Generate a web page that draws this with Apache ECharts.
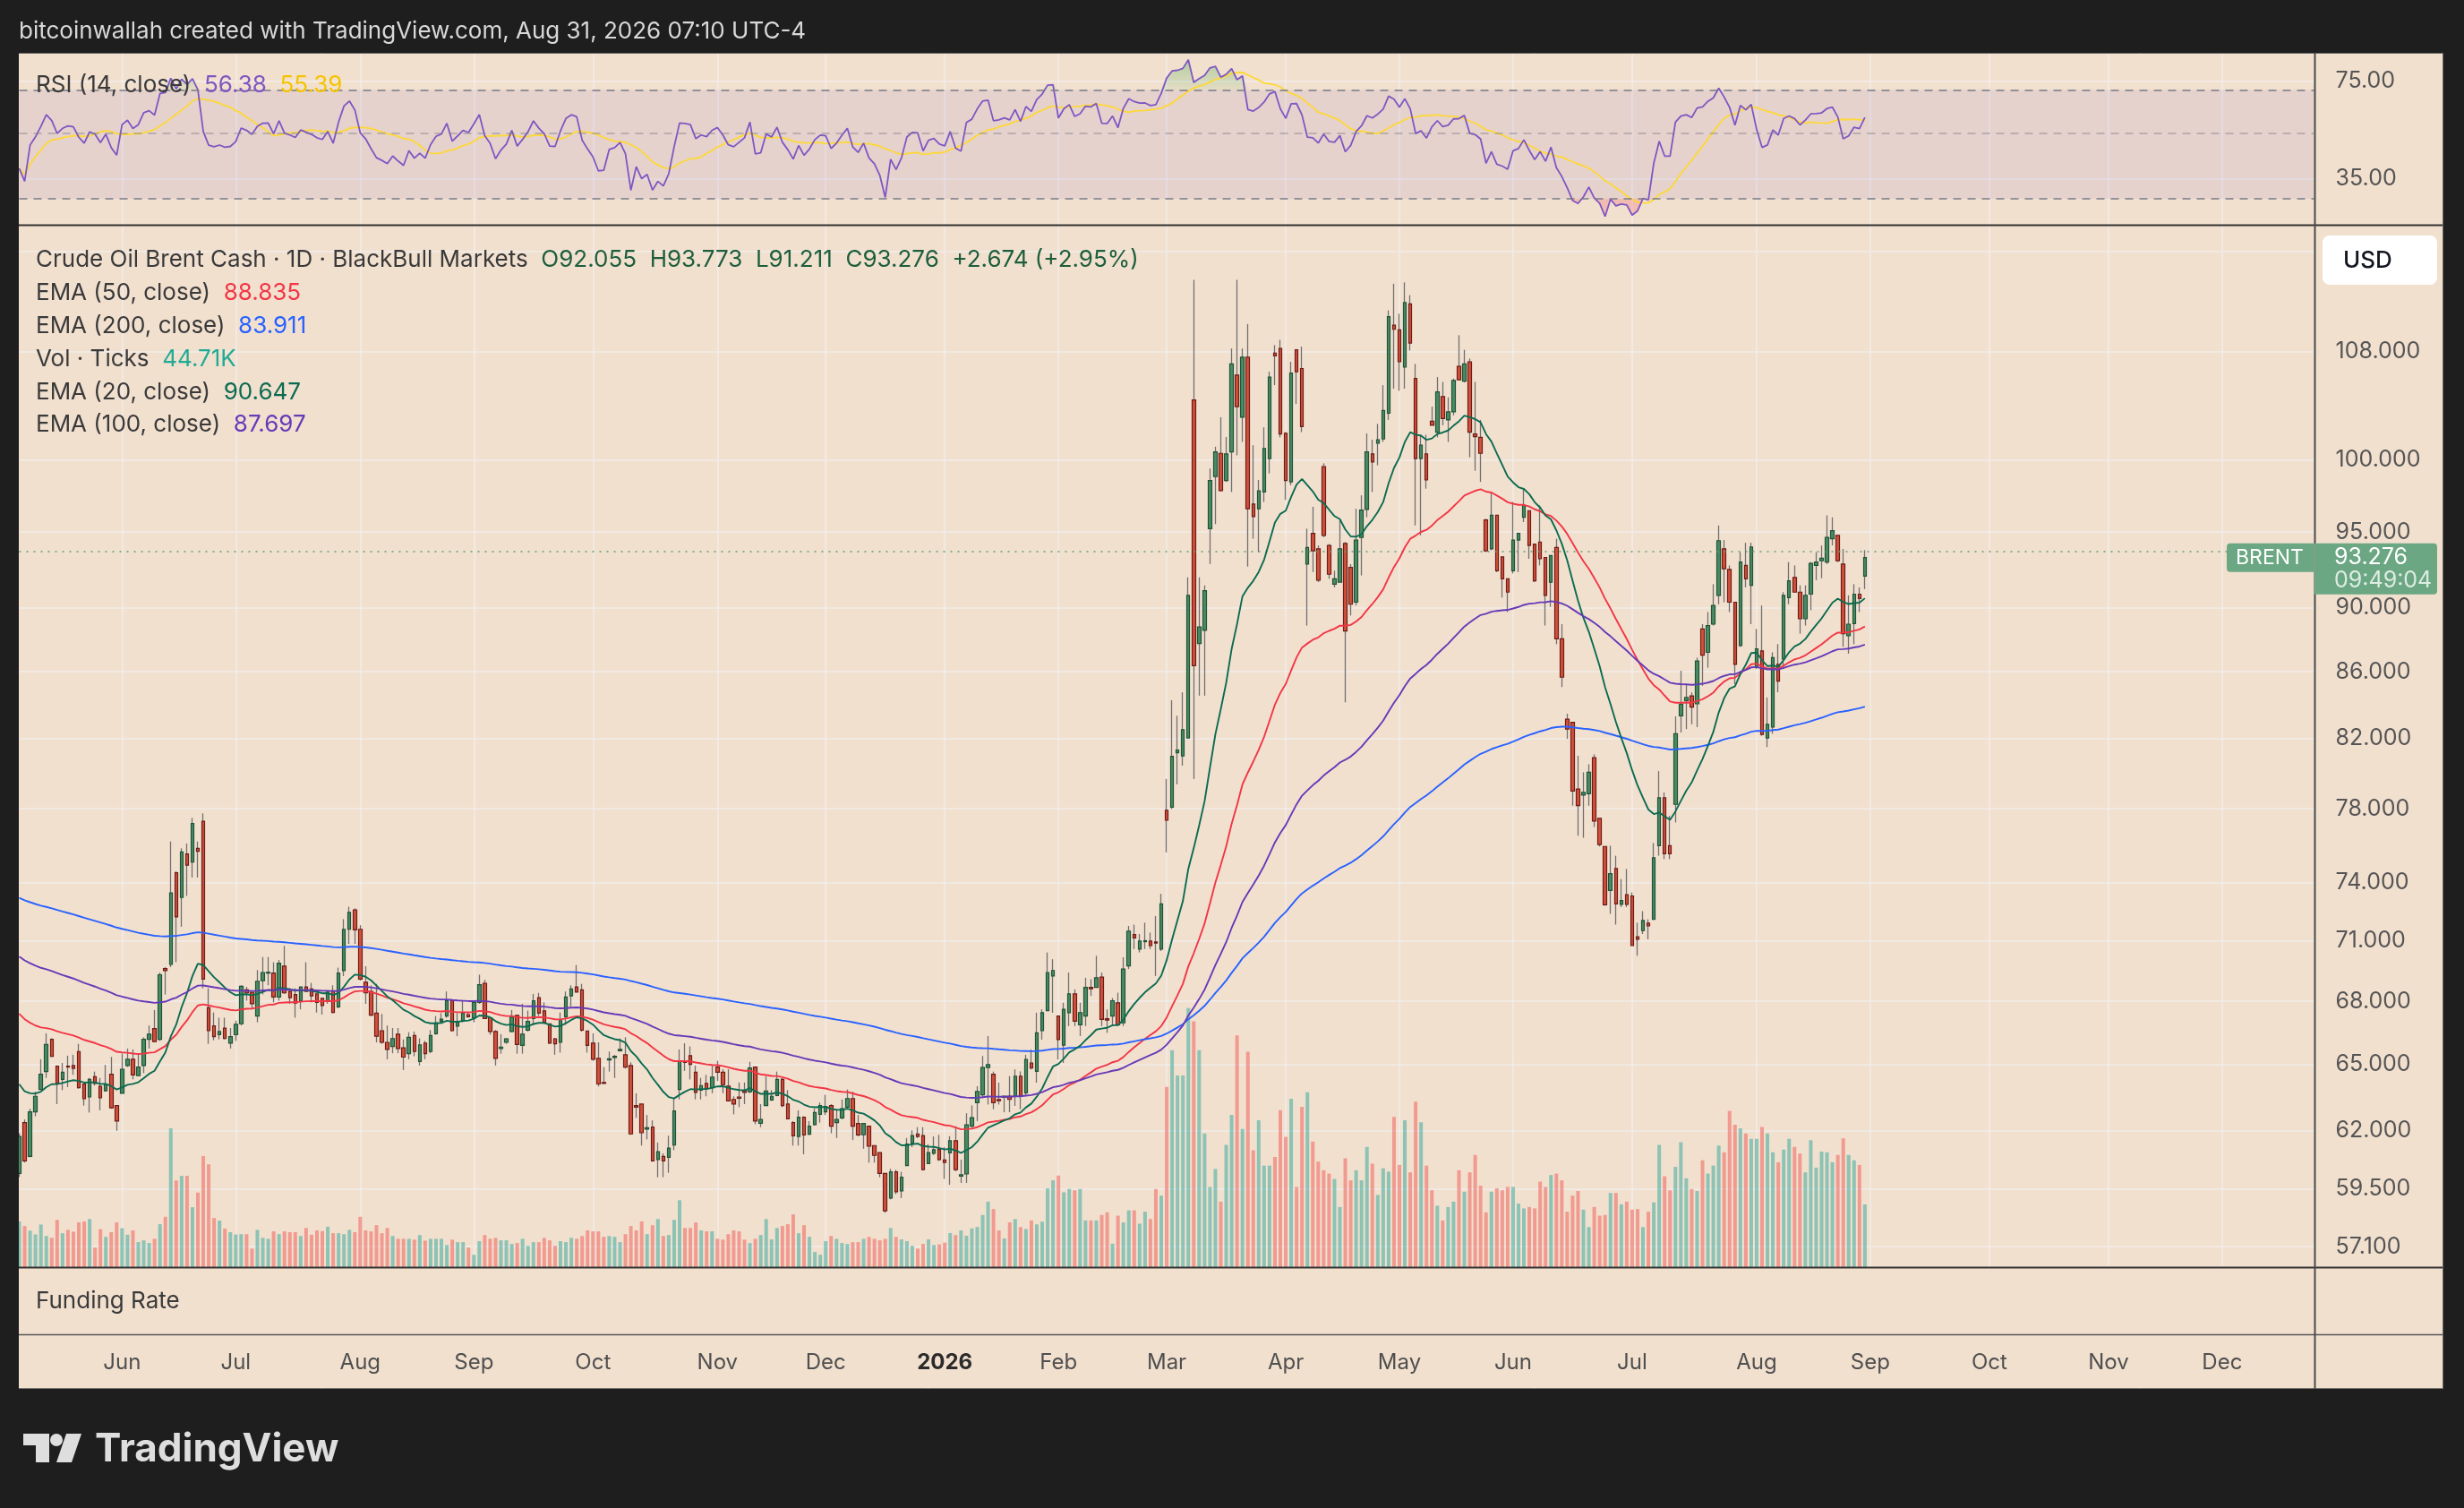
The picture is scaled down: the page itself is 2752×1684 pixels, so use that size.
<!DOCTYPE html>
<html><head><meta charset="utf-8">
<script src="https://cdn.jsdelivr.net/npm/echarts@6/dist/echarts.min.js"></script>
<style>html,body{margin:0;padding:0;background:#1e1e1e;}#c{width:2752px;height:1684px;}</style>
</head><body><div id="c"></div>
<script>
// ---------------- data ----------------
const startDate = '2025-05-06';
const endDate = '2026-12-24';
const holidays = ['2025-12-25', '2026-01-01', '2026-04-03'];

const opens = [
60.15,62.37,60.89,62.85,63.86,64.68,66.18,64.93,64.32,64.93,
64.96,65.61,64.11,63.52,64.44,64.00,63.80,64.56,63.13,63.69,
64.96,65.25,64.49,64.96,66.18,66.69,66.18,69.60,69.81,74.52,
73.22,75.53,75.09,75.83,77.30,67.69,66.82,66.40,66.71,66.00,
66.40,66.92,68.56,68.44,67.29,69.01,69.38,69.38,68.21,69.73,
68.48,68.33,68.03,68.70,68.60,68.36,68.14,68.03,68.51,67.73,
69.50,71.58,72.58,71.58,68.93,68.48,67.43,66.59,66.04,65.85,
66.43,65.78,65.51,66.36,65.15,66.01,65.61,66.45,67.04,67.29,
68.06,66.81,67.07,67.36,67.21,67.95,68.88,67.21,66.55,65.75,
66.04,66.55,67.32,65.90,66.62,67.17,68.18,67.54,66.92,66.21,
66.04,67.26,68.26,68.70,68.56,66.58,66.00,65.29,64.18,65.22,
65.33,65.65,65.46,64.96,63.13,63.20,62.08,62.17,60.75,60.89,
60.85,61.38,63.86,65.15,65.42,64.65,63.83,64.14,63.94,64.89,
64.65,64.01,63.41,63.52,63.80,63.76,64.89,62.34,63.13,63.38,
63.59,64.32,63.20,62.37,61.76,62.61,61.86,62.28,62.74,62.85,
63.13,62.37,62.58,63.06,63.45,62.33,61.84,62.21,61.36,61.05,
60.15,59.11,60.22,59.41,60.49,61.46,61.87,61.80,60.58,61.02,
61.19,60.73,61.04,61.57,60.04,60.13,62.21,63.26,63.62,64.87,
64.56,63.41,63.50,63.56,63.56,64.47,63.71,65.08,64.69,66.59,
67.55,69.24,67.29,65.91,67.45,68.36,66.87,67.29,68.68,68.68,
69.18,67.16,67.29,67.93,66.97,69.74,71.31,70.58,70.95,70.98,
70.94,70.58,77.91,78.09,81.17,80.99,82.03,104.37,87.74,88.57,
95.22,98.82,100.47,98.54,100.57,106.23,103.09,107.59,96.91,96.58,
97.74,100.09,107.90,108.26,101.91,98.45,108.16,106.73,92.85,94.90,
93.86,99.53,94.09,91.53,91.66,94.22,92.63,90.36,94.63,96.53,
100.43,101.20,101.50,103.38,110.07,109.70,106.83,111.76,105.97,100.09,
100.43,102.79,102.00,104.61,102.89,103.48,106.89,105.77,107.24,101.86,
101.62,95.81,93.86,96.13,93.33,91.88,92.41,94.45,96.00,96.45,
94.18,94.32,93.29,91.66,93.95,88.03,83.14,82.95,79.10,78.76,
78.84,80.89,77.47,75.93,73.59,74.75,72.86,73.37,73.30,71.20,
71.51,71.89,72.09,75.97,78.61,75.97,78.24,83.34,84.24,84.53,
84.05,88.66,87.19,88.96,90.80,93.86,92.50,90.36,87.61,92.76,
91.45,86.28,87.28,82.03,82.67,86.45,86.78,90.66,91.97,91.01,
89.30,90.88,92.76,93.07,92.98,94.54,94.77,92.85,88.23,89.00,
90.88,92.055];
const highs = [
61.90,62.51,62.99,63.76,65.25,66.47,66.23,64.96,65.08,65.42,
65.46,65.97,64.11,64.39,64.68,64.39,64.99,65.36,63.13,65.51,
65.75,65.71,65.53,66.28,66.84,67.58,69.41,69.68,76.20,74.60,
75.83,76.09,77.49,76.20,77.74,68.63,67.46,67.21,67.21,66.72,
67.07,68.78,68.70,68.44,69.53,70.18,70.18,69.92,70.03,70.74,
68.63,68.63,68.70,69.92,68.90,68.36,68.18,68.48,68.78,69.65,
72.10,72.74,72.66,71.79,69.72,68.78,68.85,67.39,66.84,66.72,
66.72,66.18,66.52,66.55,66.23,66.11,66.62,67.29,67.43,68.48,
68.11,67.43,68.03,67.43,68.03,69.30,69.05,67.21,66.62,66.43,
66.25,67.58,67.36,67.88,67.55,68.36,68.41,67.95,66.92,66.25,
67.46,68.48,68.78,69.78,68.85,66.58,66.47,66.04,64.89,65.61,
65.46,66.23,66.28,65.11,63.69,63.20,62.71,62.47,61.49,61.02,
61.79,63.48,65.71,66.00,65.85,64.96,64.39,64.53,64.96,65.18,
64.79,64.79,63.55,64.18,64.18,65.13,64.89,63.20,64.46,63.83,
64.68,64.39,63.83,62.44,62.92,62.65,62.44,62.99,63.27,63.62,
63.20,62.99,63.41,63.86,63.76,62.71,62.33,62.21,61.36,61.05,
60.15,60.35,60.31,60.22,61.69,62.03,62.17,62.17,61.42,61.76,
61.83,61.29,61.77,62.21,60.75,62.79,63.14,64.01,65.40,66.34,
64.68,64.17,63.56,64.47,64.78,64.69,65.46,65.71,67.45,67.61,
70.41,70.07,67.29,67.93,69.41,68.58,67.93,69.15,69.08,70.24,
69.41,67.61,68.16,68.42,70.17,71.75,71.82,71.34,71.92,71.41,
72.26,73.41,79.67,84.27,83.34,84.74,91.98,113.69,91.98,91.45,
99.39,100.95,103.09,101.65,108.26,113.69,108.26,110.17,101.05,98.58,
102.35,106.48,108.52,108.93,102.00,107.24,108.21,108.41,95.22,96.72,
94.09,99.76,94.18,92.41,95.81,94.32,92.85,96.58,97.51,101.91,
101.45,102.60,105.47,111.24,113.37,110.97,113.48,112.45,107.08,101.81,
101.81,103.87,106.08,105.72,104.56,105.97,109.29,108.16,107.49,105.72,
102.89,95.90,97.74,96.13,93.33,91.88,97.05,94.91,97.97,96.45,
94.18,96.81,93.29,93.42,94.54,88.96,83.46,82.95,81.00,80.05,
80.51,81.08,77.47,75.93,75.97,75.43,74.19,74.72,73.48,71.92,
72.51,72.09,76.12,80.12,78.91,77.61,83.30,86.05,85.23,84.74,
86.86,88.96,89.73,91.53,95.44,94.45,92.76,90.36,93.64,94.27,
94.27,88.66,90.15,84.43,87.19,87.70,91.01,92.98,92.76,91.45,
91.45,92.98,93.64,94.09,96.13,95.99,94.77,93.86,90.80,91.53,
91.32,93.773];
const lows = [
60.00,60.62,60.85,62.65,63.83,64.39,65.39,63.20,63.83,63.97,
64.53,63.90,63.13,62.82,64.04,62.92,63.77,62.99,62.01,63.69,
64.89,64.32,64.46,64.61,65.75,66.04,66.11,68.33,69.68,69.92,
71.71,73.30,74.27,74.27,68.63,65.97,66.14,66.18,66.18,65.75,
66.11,66.84,68.03,67.61,66.99,68.33,68.78,67.95,68.03,68.36,
67.88,67.21,67.61,68.48,67.95,67.46,67.36,67.88,67.43,67.66,
69.23,70.84,70.84,69.01,67.88,67.29,66.04,65.97,65.25,65.53,
65.53,64.75,65.25,65.39,64.96,65.25,65.53,66.40,66.92,67.21,
66.55,66.33,66.99,67.21,66.99,67.88,67.14,66.40,64.96,65.51,
65.97,66.52,65.51,65.51,66.55,66.84,67.29,66.92,65.97,65.46,
65.56,66.87,67.73,68.45,66.55,65.56,65.18,64.00,64.11,64.68,
64.39,65.61,64.82,61.83,62.58,61.36,61.63,60.66,59.99,59.99,
60.18,61.16,63.41,64.71,64.32,63.41,63.41,63.55,63.69,64.25,
63.69,63.34,62.74,63.06,63.20,63.69,62.30,62.17,63.13,63.34,
63.55,63.06,62.51,61.36,61.36,60.98,61.83,62.24,62.37,62.71,
61.90,61.69,62.51,62.99,61.60,61.76,61.22,60.62,60.62,59.99,
58.49,59.05,59.27,59.11,60.49,61.29,61.69,60.28,60.55,60.95,
60.69,59.92,59.67,60.24,59.75,59.75,62.15,62.44,63.47,63.18,
62.97,63.18,62.83,62.83,63.12,62.97,63.56,64.78,64.17,66.17,
67.55,67.45,65.24,65.08,66.81,66.81,66.34,66.81,68.26,68.68,
66.81,66.49,66.81,66.81,66.81,69.58,70.58,70.41,70.58,70.58,
69.24,70.48,75.61,77.98,79.36,80.43,82.03,79.67,84.54,84.54,
92.85,95.53,97.79,98.45,97.74,100.33,101.29,92.68,94.54,93.64,
97.05,99.04,105.47,101.62,97.19,98.21,104.06,102.00,88.87,92.32,
91.66,94.63,91.88,91.32,91.66,84.14,89.51,90.15,92.10,96.00,
97.74,99.62,101.29,102.89,105.21,105.05,105.21,108.10,95.44,94.77,
97.97,102.50,101.62,102.50,101.29,103.23,105.87,105.67,100.19,99.23,
98.45,93.64,93.77,92.32,90.66,89.73,92.23,92.32,95.67,93.20,
91.66,92.76,88.87,90.06,87.70,85.06,81.98,78.17,76.51,76.40,
78.17,76.99,75.93,72.79,72.37,71.82,72.72,72.72,70.75,70.24,
71.34,71.07,72.09,75.43,75.25,75.25,77.24,82.35,82.55,82.83,
82.67,85.14,86.24,88.87,90.23,90.36,89.73,85.23,87.53,91.32,
88.96,86.16,82.16,81.50,82.28,84.74,86.16,90.23,91.01,88.36,
88.87,89.85,91.79,91.92,92.85,94.09,92.98,87.53,87.11,87.70,
89.73,91.211];
const closes = [
61.76,60.69,62.85,63.55,64.56,65.94,65.39,64.14,64.65,64.89,
64.82,63.94,63.44,64.32,64.14,63.48,64.08,63.03,62.44,64.79,
65.25,64.53,64.89,66.18,66.43,66.08,69.30,69.50,73.46,72.22,
75.63,74.93,77.18,75.67,69.08,66.59,66.31,66.55,66.22,66.31,
66.89,68.73,68.41,67.88,68.98,69.41,69.42,68.21,69.87,68.41,
68.18,67.91,68.70,68.48,68.26,67.95,67.80,68.45,67.46,69.38,
71.58,72.45,71.55,69.08,68.41,67.33,66.33,66.04,65.71,66.22,
65.75,65.35,66.28,65.61,65.92,65.51,66.36,66.96,67.14,68.03,
66.59,66.99,67.43,67.26,67.95,68.81,67.17,66.55,65.29,65.82,
66.21,67.24,65.94,66.43,67.03,68.03,67.43,66.99,66.00,65.97,
67.07,68.21,68.60,68.45,66.62,65.90,65.25,64.11,64.14,65.27,
65.39,65.71,64.89,61.87,63.06,61.92,62.14,60.69,61.09,60.69,
61.25,62.89,65.15,65.10,65.01,63.73,64.04,63.90,64.42,64.65,
64.08,63.34,63.20,63.46,63.73,64.85,62.44,62.51,63.79,63.55,
64.32,63.13,62.54,61.79,62.61,61.83,62.21,62.82,63.13,63.09,
62.21,62.51,62.99,63.45,62.21,61.83,62.33,61.33,60.93,60.15,
58.57,60.22,59.37,59.99,61.42,61.80,61.76,60.32,61.05,61.18,
60.75,60.62,61.57,60.32,60.10,62.27,62.59,63.77,64.87,65.00,
63.26,63.35,63.56,63.41,64.47,63.56,65.24,64.84,66.49,67.45,
69.41,69.51,66.17,67.61,68.36,67.04,67.45,68.68,68.61,69.15,
67.13,67.10,68.03,66.87,69.58,71.48,71.14,70.98,71.00,70.75,
70.88,72.89,77.36,80.96,81.33,82.51,90.80,86.37,88.78,91.10,
98.54,100.57,97.84,100.43,107.08,103.87,107.59,96.58,96.04,97.83,
100.81,106.08,107.70,101.86,98.54,106.38,106.48,102.40,93.95,93.73,
91.79,94.77,92.18,91.88,93.86,88.53,90.23,94.45,96.49,100.57,
99.85,101.45,103.58,110.75,109.75,107.24,111.87,108.68,100.09,101.05,
98.58,102.50,104.96,102.99,103.48,105.82,105.87,107.08,102.00,101.67,
100.47,93.73,96.13,92.41,91.88,91.01,94.45,94.91,96.81,94.09,
91.75,93.20,90.80,93.42,88.03,85.66,82.55,78.99,78.17,78.91,
80.05,77.32,76.03,72.84,74.47,72.89,73.06,72.86,70.75,71.07,
72.03,71.75,75.32,78.61,75.54,75.54,82.28,84.03,84.44,83.86,
86.66,87.02,88.87,90.15,94.41,92.54,90.36,86.45,92.98,91.88,
93.99,87.40,82.24,82.83,86.86,85.42,90.80,91.75,91.01,89.30,
90.80,92.89,92.98,93.24,94.63,95.08,93.07,88.36,88.96,90.88,
90.60,93.276];
const volumesK = [
32.6,29.3,26.0,23.3,30.4,22.2,20.9,33.7,24.2,26.6,
25.3,31.9,32.6,34.3,13.9,27.1,21.6,24.9,31.9,27.7,
23.1,26.2,17.8,19.1,17.2,20.2,30.6,35.9,99.0,61.8,
65.1,65.1,42.7,53.2,79.2,73.3,35.0,33.2,27.5,24.9,
23.3,23.5,23.5,13.2,26.6,20.9,20.2,25.5,23.5,25.5,
24.9,24.9,22.2,27.9,23.1,26.2,25.7,28.8,24.2,24.2,
23.5,26.6,24.9,35.9,26.2,25.5,29.9,24.2,27.9,22.2,
20.2,20.2,20.2,19.6,22.9,18.9,20.2,20.2,20.2,15.8,
19.6,17.8,17.8,13.9,8.8,18.5,22.9,20.2,20.9,19.1,
19.1,16.5,17.2,20.2,15.2,17.8,17.8,20.9,19.1,15.2,
18.5,17.8,20.9,20.2,22.2,26.2,25.5,25.5,21.6,22.2,
21.6,17.8,23.5,29.3,26.2,32.6,23.5,29.9,34.3,22.2,
22.9,33.7,47.7,27.9,27.9,31.9,26.2,25.5,25.5,20.2,
19.6,23.5,26.2,25.5,19.6,17.2,20.2,22.9,34.3,19.8,
27.9,29.3,30.6,37.6,24.2,29.9,21.6,10.8,8.8,18.5,
22.2,20.2,17.2,16.5,17.8,17.8,20.2,21.6,20.2,19.1,
20.2,27.9,21.6,19.8,18.5,15.2,13.2,16.5,19.8,15.8,
16.2,17.5,24.3,22.9,26.2,22.4,27.6,28.6,37.2,46.7,
41.4,26.2,20.5,31.9,34.3,28.6,27.2,33.3,30.5,32.4,
56.2,61.9,65.3,53.4,55.7,54.8,55.7,33.3,33.3,33.3,
37.2,39.1,16.7,36.7,31.9,40.5,40.5,31.0,39.5,34.3,
55.7,51.0,128.6,154.8,136.7,136.7,184.8,175.3,154.8,95.3,
57.2,70.0,46.7,87.2,108.6,165.3,98.6,153.7,83.4,104.8,
72.4,72.4,78.6,112.0,92.9,120.1,57.2,114.3,124.8,89.6,
75.3,69.1,66.7,62.9,42.9,77.7,61.9,69.1,61.9,85.8,
73.8,51.5,70.5,68.1,107.2,72.9,104.8,67.6,118.1,103.4,
72.4,54.8,43.8,33.3,42.9,46.7,69.1,53.8,67.6,80.0,
58.1,39.1,53.8,56.2,54.8,57.2,57.2,45.3,41.9,42.9,
41.9,61.0,57.2,65.7,66.7,61.9,39.5,51.0,54.3,41.0,
28.6,42.9,36.7,37.2,52.9,52.9,44.8,46.7,41.0,41.4,
28.6,39.5,46.2,87.2,64.8,54.8,71.5,89.1,63.4,55.7,
54.3,76.2,66.7,72.4,86.7,81.9,111.5,101.5,99.1,95.3,
91.5,91.5,100.0,95.3,81.9,74.8,83.8,91.5,85.8,81.0,
67.6,90.5,71.0,82.4,81.9,74.8,80.0,91.9,80.0,76.2,
72.9,44.71];

// indicator starting values read at the left edge of the picture
const emaSeeds = {20: 64.1, 50: 67.4, 100: 70.2, 200: 73.2};
const rsiSeed = {gain: 0.30, loss: 0.49};

// tick labels
const priceTicks = [57.1, 59.5, 62, 65, 68, 71, 74, 78, 82, 86, 90, 95, 100, 108, 116];
const rsiTicks = [75, 35];
const rsiLevels = [70, 50, 30];
const lastPrice = 93.276;
const monthNames = ['Jan','Feb','Mar','Apr','May','Jun','Jul','Aug','Sep','Oct','Nov','Dec'];

// legend texts
const titleText = 'bitcoinwallah created with TradingView.com, Aug 31, 2026 07:10 UTC-4';
const symbolText = 'Crude Oil Brent Cash · 1D · BlackBull Markets';
const ohlcText = 'O92.055  H93.773  L91.211  C93.276  +2.674 (+2.95%)';
const legendRows = [
  ['EMA (50, close)', '88.835', '#f23645'],
  ['EMA (200, close)', '83.911', '#2962ff'],
  ['Vol · Ticks', '44.71K', '#22ab94'],
  ['EMA (20, close)', '90.647', '#0b6b50'],
  ['EMA (100, close)', '87.697', '#673ab7']
];
const rsiLegend = ['RSI (14, close)', '56.38', '55.39'];

// ---------------- helpers ----------------
const L = Math.log;
function buildDays() {
  const out = [];
  let t = Date.parse(startDate + 'T00:00:00Z');
  const end = Date.parse(endDate + 'T00:00:00Z');
  while (t <= end) {
    const d = new Date(t);
    const w = d.getUTCDay();
    const s = d.toISOString().slice(0, 10);
    if (w !== 0 && w !== 6 && holidays.indexOf(s) < 0) out.push(s);
    t += 86400000;
  }
  return out;
}
function ema(src, n, seed) {
  const a = 2 / (n + 1); let e = seed;
  return src.map((v, i) => { if (i > 0) e = a * v + (1 - a) * e; return e; });
}
function rsiCalc(src) {
  let g = rsiSeed.gain, l = rsiSeed.loss; const out = [];
  for (let i = 0; i < src.length; i++) {
    if (i > 0) { const d = src[i] - src[i - 1]; g = (g * 13 + Math.max(d, 0)) / 14; l = (l * 13 + Math.max(-d, 0)) / 14; }
    out.push(100 - 100 / (1 + g / l));
  }
  return out;
}
function sma(src, n) {
  return src.map((v, i) => { const s = src.slice(Math.max(0, i - n + 1), i + 1); return s.reduce((a, b) => a + b, 0) / s.length; });
}

const days = buildDays();
const ema20 = ema(closes, 20, emaSeeds[20]);
const ema50 = ema(closes, 50, emaSeeds[50]);
const ema100 = ema(closes, 100, emaSeeds[100]);
const ema200 = ema(closes, 200, emaSeeds[200]);
const rsi = rsiCalc(closes);
const rsiMa = sma(rsi, 14);

const wickData = opens.map((o, i) => [L(o), L(closes[i]), L(lows[i]), L(highs[i])]);
const bodyData = opens.map((o, i) => { const a = L(o), b = L(closes[i]); return [a, b, Math.min(a, b), Math.max(a, b)]; });
const volData = volumesK.map((v, i) => ({ value: v, itemStyle: { color: closes[i] >= opens[i] ? 'rgba(38,166,154,0.5)' : 'rgba(239,83,80,0.5)' } }));

const GRID = 'rgba(240,240,240,0.75)';
const FONT = 'Inter';
const TXT = '#3a3a3a';
const isMonthStart = i => i > 0 && days[i].slice(5, 7) !== days[i - 1].slice(5, 7);
const gridLeft = 21.5, gridWidth = 2563.1;

function xAxisFor(gi, labels, split) {
  return {
    type: 'category', gridIndex: gi, data: days, boundaryGap: false,
    axisLine: { show: false }, axisTick: { show: false },
    axisLabel: {
      show: labels, interval: (i) => isMonthStart(i), margin: 20,
      color: '#4f4f4f', fontSize: 24, fontFamily: FONT,
      formatter: (v) => { const m = +v.slice(5, 7); return m === 1 ? '{b|' + v.slice(0, 4) + '}' : monthNames[m - 1]; },
      rich: { b: { fontWeight: 'bold', color: '#2b2b2b', fontSize: 24, fontFamily: FONT } }
    },
    splitLine: { show: split, interval: (i) => isMonthStart(i), lineStyle: { color: GRID, width: 1.5 } }
  };
}

const chart = echarts.init(document.getElementById('c'), null, { renderer: 'canvas', width: 2752, height: 1684 });

const option = {
  animation: false,
  backgroundColor: '#f2e0cf',
  grid: [
    { left: gridLeft, top: 60, width: gridWidth, height: 191 },
    { left: gridLeft, top: 252, width: gridWidth, height: 1163 },
    { left: gridLeft, top: 1416, width: gridWidth, height: 74 }
  ],
  xAxis: [xAxisFor(0, false, true), xAxisFor(1, false, true), xAxisFor(2, true, false)],
  yAxis: [
    { type: 'value', gridIndex: 0, position: 'right', min: L(24.5), max: L(92.9),
      axisLine: { show: false }, axisTick: { show: false, customValues: rsiTicks.map(L) },
      axisLabel: { customValues: rsiTicks.map(L), formatter: v => Math.exp(v).toFixed(2), color: '#555', fontSize: 25, fontFamily: FONT, margin: 24 },
      splitLine: { show: true, lineStyle: { color: GRID, width: 1.5 } } },
    { type: 'value', gridIndex: 1, position: 'right', min: L(56.27), max: L(118.16),
      axisLine: { show: false }, axisTick: { show: false, customValues: priceTicks.map(L) },
      axisLabel: { customValues: priceTicks.map(L), formatter: v => Math.exp(v).toFixed(3), color: '#555', fontSize: 25, fontFamily: FONT, margin: 24 },
      splitLine: { show: true, lineStyle: { color: GRID, width: 1.5 } } },
    { type: 'value', gridIndex: 1, min: 0, max: 743, show: false, splitLine: { show: false } },
    { type: 'value', gridIndex: 2, min: 0, max: 1, show: false, splitLine: { show: false } }
  ],
  series: [
    { name: 'ob', type: 'line', xAxisIndex: 0, yAxisIndex: 0, symbol: 'none', silent: true, z: 2,
      data: rsi.map(v => L(Math.max(v, 70))), lineStyle: { width: 0 },
      areaStyle: { origin: L(70), color: new echarts.graphic.LinearGradient(0, 0, 0, 1, [{ offset: 0, color: 'rgba(76,175,80,0.55)' }, { offset: 1, color: 'rgba(76,175,80,0.12)' }]) } },
    { name: 'os', type: 'line', xAxisIndex: 0, yAxisIndex: 0, symbol: 'none', silent: true, z: 2,
      data: rsi.map(v => L(Math.min(v, 30))), lineStyle: { width: 0 },
      areaStyle: { origin: L(30), color: 'rgba(242,54,69,0.3)' } },
    { name: 'RSI', type: 'line', xAxisIndex: 0, yAxisIndex: 0, symbol: 'none', silent: true, z: 4,
      data: rsi.map(L), lineStyle: { color: '#7e57c2', width: 1.8 },
      markArea: { silent: true, itemStyle: { color: 'rgba(126,87,194,0.1)' }, data: [[{ yAxis: L(30) }, { yAxis: L(70) }]] },
      markLine: { silent: true, symbol: 'none', label: { show: false },
        data: rsiLevels.map(v => ({ yAxis: L(v), lineStyle: { color: v === 50 ? 'rgba(120,123,134,0.55)' : '#787b86', type: [9, 7], width: 1.6 } })) } },
    { name: 'RSI MA', type: 'line', xAxisIndex: 0, yAxisIndex: 0, symbol: 'none', silent: true, z: 3,
      data: rsiMa.map(L), lineStyle: { color: '#fdd835', width: 1.8 } },

    { name: 'Vol', type: 'bar', xAxisIndex: 1, yAxisIndex: 2, barWidth: 4, silent: true, z: 1, data: volData },
    { name: 'wick', type: 'candlestick', xAxisIndex: 1, yAxisIndex: 1, barWidth: 1, silent: true, z: 3,
      itemStyle: { color: '#707070', color0: '#707070', borderColor: '#707070', borderColor0: '#707070', borderWidth: 1.3 },
      data: wickData },
    { name: 'body', type: 'candlestick', xAxisIndex: 1, yAxisIndex: 1, barWidth: 4, silent: true, z: 4,
      itemStyle: { color: '#4b8b64', color0: '#d1513b', borderColor: '#1f5538', borderColor0: '#6e1d18', borderWidth: 1.2 },
      data: bodyData,
      markLine: { silent: true, symbol: 'none', label: { show: false }, lineStyle: { color: '#5f9e78', type: [2, 6], width: 1.6 },
        data: [{ yAxis: L(lastPrice) }] } },
    { name: 'EMA50', type: 'line', xAxisIndex: 1, yAxisIndex: 1, symbol: 'none', silent: true, z: 5, data: ema50.map(L), lineStyle: { color: '#f23645', width: 1.9 } },
    { name: 'EMA200', type: 'line', xAxisIndex: 1, yAxisIndex: 1, symbol: 'none', silent: true, z: 5, data: ema200.map(L), lineStyle: { color: '#2962ff', width: 1.9 } },
    { name: 'EMA20', type: 'line', xAxisIndex: 1, yAxisIndex: 1, symbol: 'none', silent: true, z: 5, data: ema20.map(L), lineStyle: { color: '#0b6b50', width: 1.9 } },
    { name: 'EMA100', type: 'line', xAxisIndex: 1, yAxisIndex: 1, symbol: 'none', silent: true, z: 5, data: ema100.map(L), lineStyle: { color: '#673ab7', width: 1.9 } }
  ]
};
chart.setOption(option);

// ---------------- decorations ----------------
const dark = '#1e1e1e';
const g = [];
const rect = (x, y, w, h, fill, z, r) => ({ type: 'rect', silent: true, z: z || 50, shape: { x, y, width: w, height: h, r: r || 0 }, style: { fill } });
const line = (x1, y1, x2, y2, c, w) => ({ type: 'line', silent: true, z: 60, shape: { x1, y1, x2, y2 }, style: { stroke: c, lineWidth: w } });
const text = (x, y, t, st) => ({ type: 'text', silent: true, z: 70, x, y, style: Object.assign({ text: t, fill: TXT, fontSize: 26, fontFamily: FONT, verticalAlign: 'middle', align: 'left' }, st || {}) });
const rs = (c) => ({ fill: c, fontSize: 26, fontFamily: FONT });

g.push(rect(0, 0, 2752, 59, dark));
g.push(rect(0, 1551, 2752, 133, dark));
g.push(rect(0, 0, 21, 1684, dark));
g.push(rect(2729, 0, 23, 1684, dark));

g.push(line(21, 59.5, 2729, 59.5, '#6a6a6a', 1));
g.push(line(21, 251.5, 2729, 251.5, '#333333', 2));
g.push(line(21, 1415.5, 2729, 1415.5, '#333333', 2));
g.push(line(21, 1490.5, 2729, 1490.5, '#555555', 1.5));
g.push(line(21, 1550.5, 2729, 1550.5, '#7a746e', 1));
g.push(line(2585.5, 59, 2585.5, 1551, '#4a4a4a', 2));
g.push(line(2728.5, 59, 2728.5, 1551, '#6a6a6a', 1));

g.push(text(21, 35, titleText, { fill: '#d8d8d8', fontSize: 26 }));

g.push(text(40, 95, '{a|' + rsiLegend[0] + '}  {p|' + rsiLegend[1] + '}  {y|' + rsiLegend[2] + '}', {
  rich: { a: rs(TXT), p: rs('#7e57c2'), y: rs('#f5c400') } }));

g.push(text(40, 290, '{a|' + symbolText + '}  {g|' + ohlcText + '}', {
  rich: { a: rs(TXT), g: rs('#1d5e3c') } }));
legendRows.forEach((r, i) => {
  g.push(text(40, 327 + i * 36.9, '{a|' + r[0] + '}  {v|' + r[1] + '}', {
    rich: { a: rs(TXT), v: rs(r[2]) } }));
});

g.push(text(40, 1453, 'Funding Rate', { fill: TXT }));

// USD button
g.push(rect(2594, 263, 128, 55, '#ffffff', 80, 8));
g.push(Object.assign(text(2617, 291, 'USD', { fill: '#131722', fontSize: 26, fontWeight: 500 }), { z: 81 }));

// last price labels
const yp = chart.convertToPixel({ yAxisIndex: 1 }, L(lastPrice));
g.push(rect(2487, yp - 16, 97, 32, '#6aa782', 80, [4, 0, 0, 4]));
g.push(Object.assign(text(2535, yp, 'BRENT', { fill: '#ffffff', fontSize: 23, align: 'center' }), { z: 81 }));
g.push(rect(2585, yp - 16, 137, 57, '#6aa782', 80, [0, 4, 4, 0]));
g.push(Object.assign(text(2607, yp, lastPrice.toFixed(3), { fill: '#ffffff', fontSize: 25 }), { z: 81 }));
g.push(Object.assign(text(2607, yp + 26, '09:49:04', { fill: 'rgba(255,255,255,0.78)', fontSize: 25 }), { z: 81 }));

// footer logo
const LOGO = '#dedede';
g.push({ type: 'polygon', silent: true, z: 70, shape: { points: [[26, 1601], [55, 1601], [55, 1633], [40, 1633], [40, 1614], [26, 1614]] }, style: { fill: LOGO } });
g.push({ type: 'circle', silent: true, z: 70, shape: { cx: 63, cy: 1608, r: 7 }, style: { fill: LOGO } });
g.push({ type: 'polygon', silent: true, z: 70, shape: { points: [[74, 1601], [91, 1601], [80, 1633], [63, 1633]] }, style: { fill: LOGO } });
g.push(text(106, 1619, 'TradingView', { fill: LOGO, fontSize: 44, fontWeight: 'bold' }));

chart.setOption({ graphic: { elements: g } });
</script>
</body></html>
